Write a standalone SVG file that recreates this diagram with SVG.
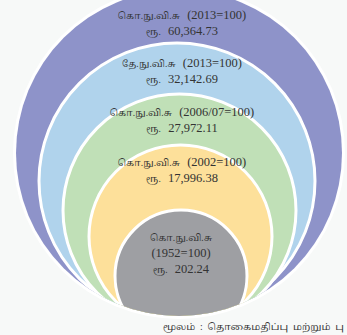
<svg xmlns="http://www.w3.org/2000/svg" width="347" height="335" viewBox="0 0 347 335">
<style>
text { font-family: "Liberation Serif", "Noto Serif Tamil", "Noto Sans Tamil", "Lohit Tamil", serif; font-size: 9.5px; fill: #333333; text-anchor: middle; white-space: pre; }
.n { font-size: 12.5px; }
.ring { stroke: #ffffff; stroke-width: 3; }
.src { text-anchor: start; font-size: 9.5px; }
</style>
<defs>
<clipPath id="outerClip"><circle cx="179" cy="153" r="163"/></clipPath>
</defs>
<rect width="347" height="335" fill="#f7f9f8"/>
<g id="node-2013-cpi">
<circle cx="179" cy="153" r="166" fill="#ffffff"/>
<circle cx="179" cy="153" r="163" fill="#8e93c9"/>
<text x="182" y="19">கொ.நு.வி.சு   <tspan class="n">(2013=100)</tspan></text>
<text x="182" y="35">ரூ.   <tspan class="n">60,364.73</tspan></text>
</g>
<g clip-path="url(#outerClip)">
<g id="node-2013-ncpi">
<circle class="ring" cx="177" cy="181" r="138" fill="#b0d3ec"/>
<text x="182" y="67">தே.நு.வி.சு   <tspan class="n">(2013=100)</tspan></text>
<text x="182" y="83">ரூ.   <tspan class="n">32,142.69</tspan></text>
</g>
<g id="node-2006">
<circle class="ring" cx="179.5" cy="210.5" r="116.5" fill="#c0e0b7"/>
<text x="182" y="116">கொ.நு.வி.சு   <tspan class="n">(2006/07=100)</tspan></text>
<text x="182" y="132">ரூ.   <tspan class="n">27,972.11</tspan></text>
</g>
<g id="node-2002">
<circle class="ring" cx="180.5" cy="236.5" r="91.5" fill="#fde09a"/>
<text x="182" y="166">கொ.நு.வி.சு   <tspan class="n">(2002=100)</tspan></text>
<text x="182" y="182">ரூ.   <tspan class="n">17,996.38</tspan></text>
</g>
<g id="node-1952">
<circle class="ring" cx="181" cy="276" r="66" fill="#9e9fa3"/>
<text x="181" y="241">கொ.நு.வி.சு</text>
<text x="181" y="257" class="n">(1952=100)</text>
<text x="181" y="273">ரூ.   <tspan class="n">202.24</tspan></text>
</g>
</g>
<text class="src" x="163" y="330" textLength="181" lengthAdjust="spacingAndGlyphs">மூலம்  :  தொகைமதிப்பு  மற்றும்  பு</text>
</svg>
